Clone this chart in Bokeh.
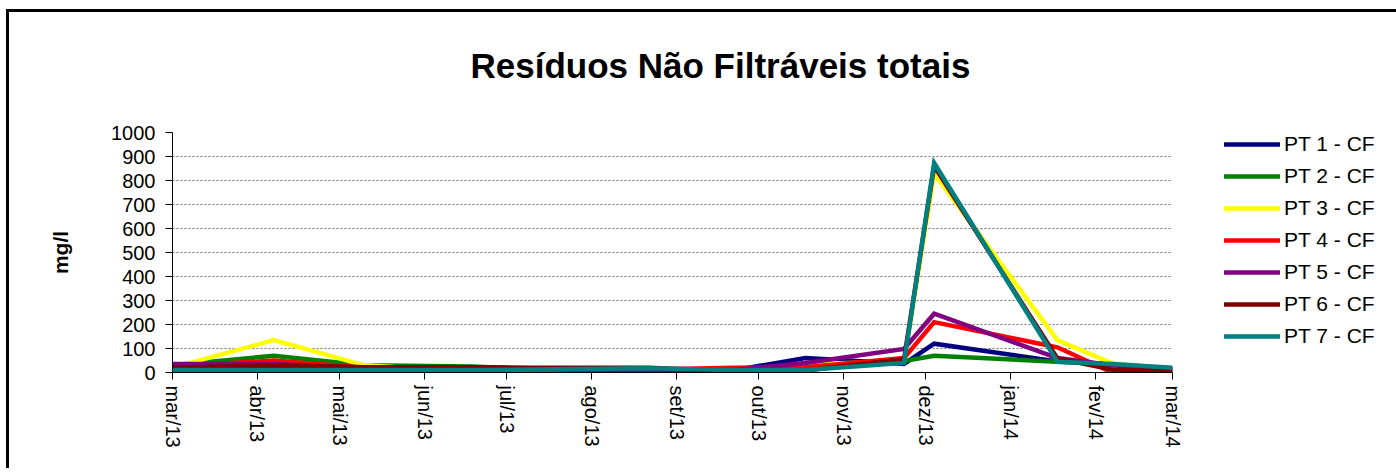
import math
import pandas as pd
from bokeh.plotting import figure
from bokeh.layouts import row
from bokeh.models import FixedTicker, Legend, LegendItem, Range1d
from bokeh.embed import file_html
from bokeh.resources import INLINE

# ---- data ----
sample_dates = ["2013-03-01", "2013-04-07", "2013-05-10", "2013-06-18", "2013-07-10",
                "2013-08-22", "2013-09-22", "2013-10-18", "2013-11-23", "2013-12-04",
                "2014-01-18", "2014-02-07", "2014-03-01"]
month_ticks = ["2013-03-01", "2013-04-01", "2013-05-01", "2013-06-01", "2013-07-01",
               "2013-08-01", "2013-09-01", "2013-10-01", "2013-11-01", "2013-12-01",
               "2014-01-01", "2014-02-01", "2014-03-01"]
month_labels = ["mar/13", "abr/13", "mai/13", "jun/13", "jul/13", "ago/13", "set/13",
                "out/13", "nov/13", "dez/13", "jan/14", "fev/14", "mar/14"]
y_ticks = [0, 100, 200, 300, 400, 500, 600, 700, 800, 900, 1000]

series_names = ["PT 1 - CF", "PT 2 - CF", "PT 3 - CF", "PT 4 - CF",
                "PT 5 - CF", "PT 6 - CF", "PT 7 - CF"]
pt1 = [15, 20, 15, 12, 10, 10, 10, 60, 36, 120, 46, 35, 15]
pt2 = [30, 70, 30, 25, 15, 12, 10, 15, 48, 70, 45, 35, 15]
pt3 = [20, 135, 30, 3, 3, 8, 10, 35, 45, 830, 135, 38, 15]
pt4 = [25, 50, 20, 20, 15, 12, 20, 22, 60, 210, 105, 0, 10]
pt5 = [35, 35, 20, 15, 12, 10, 10, 40, 98, 245, 60, 30, 15]
pt6 = [20, 30, 22, 22, 20, 20, 3, 8, 55, 860, 58, 12, 5]
pt7 = [10, 10, 10, 10, 12, 18, 10, 10, 40, 873, 45, 35, 20]
all_series = [pt1, pt2, pt3, pt4, pt5, pt6, pt7]
colors = ["#000080", "#008000", "#FFFF00", "#FF0000", "#800080", "#800000", "#008080"]

TITLE = "Resíduos Não Filtráveis totais"
FONT = "Liberation Sans"
LINE_W = 4.5

x = pd.to_datetime(sample_dates)
tick_ms = [int(pd.Timestamp(t).value // 10**6) for t in month_ticks]

# ---- main chart ----
p = figure(width=1196, height=468, x_axis_type="datetime",
           output_backend="svg", toolbar_location=None,
           x_range=Range1d(pd.Timestamp(month_ticks[0]), pd.Timestamp(month_ticks[-1])),
           y_range=Range1d(y_ticks[0], y_ticks[-1]),
           min_border_left=172, min_border_right=24,
           min_border_top=132, min_border_bottom=96)

p.border_fill_color = None
p.background_fill_color = "white"
p.outline_line_color = None
p.styles = {
    "background": "linear-gradient(black, black) 6px 9px / 3px 100% no-repeat, "
                  "linear-gradient(black, black) 6px 9px / 100% 3px no-repeat, white",
}

# a trailing blank line lifts the title higher above the plot frame
p.title.text = TITLE + "\n "
p.title.text_font = FONT
p.title.text_font_size = "35px"
p.title.text_font_style = "bold"
p.title.text_color = "black"
p.title.align = "left"
p.title.offset = 298
p.title.standoff = 18

for vals, col in zip(all_series, colors):
    p.line(x, vals, line_color=col, line_width=LINE_W, line_join="miter")

p.xgrid.visible = False
p.ygrid.grid_line_color = "#707070"
p.ygrid.grid_line_dash = "2 2"
p.ygrid.grid_line_width = 1

p.yaxis.ticker = FixedTicker(ticks=y_ticks)
p.yaxis.axis_label = "mg/l"
p.yaxis.axis_label_text_font = FONT
p.yaxis.axis_label_text_font_size = "21px"
p.yaxis.axis_label_text_font_style = "bold"
p.yaxis.axis_label_text_color = "black"
p.yaxis.axis_label_standoff = 36

p.xaxis.ticker = FixedTicker(ticks=tick_ms)
p.xaxis.major_label_overrides = dict(zip(tick_ms, month_labels))
p.xaxis.major_label_orientation = -math.pi / 2

for ax in (p.xaxis, p.yaxis):
    ax.axis_line_color = "black"
    ax.axis_line_width = 1
    ax.major_tick_line_color = "black"
    ax.major_tick_in = 0
    ax.major_tick_out = 7
    ax.minor_tick_line_color = None
    ax.major_label_text_font = FONT
    ax.major_label_text_font_size = "20px"
    ax.major_label_text_color = "black"
p.yaxis.major_label_standoff = 10
p.xaxis.major_label_standoff = 6

# ---- legend panel (frame aligned with the main chart's frame) ----
p2 = figure(width=200, height=468, output_backend="svg", toolbar_location=None,
            x_axis_location=None, y_axis_location=None,
            x_range=Range1d(0, 1), y_range=Range1d(0, 1),
            min_border_left=0, min_border_right=0, min_border_top=0, min_border_bottom=0)
p2.border_fill_color = None
p2.background_fill_color = None
p2.outline_line_color = None
p2.grid.visible = False
p2.styles = {
    "background": "linear-gradient(black, black) 0px 9px / 100% 3px no-repeat, white",
}

items = []
for name, col in zip(series_names, colors):
    r = p2.line([float("nan")], [float("nan")], line_color=col,
                line_width=LINE_W, line_cap="round")
    items.append(LegendItem(label=name, renderers=[r]))

legend = Legend(items=items, location=(28, 24), orientation="vertical",
                glyph_width=56, glyph_height=20, label_height=20,
                spacing=8, padding=0, margin=0, label_standoff=4,
                border_line_color=None, background_fill_alpha=0,
                label_text_font=FONT, label_text_font_size="21px",
                label_text_color="black")
p2.add_layout(legend)

layout = row(p, p2)
open("out.html", "w").write(file_html(layout, INLINE))
